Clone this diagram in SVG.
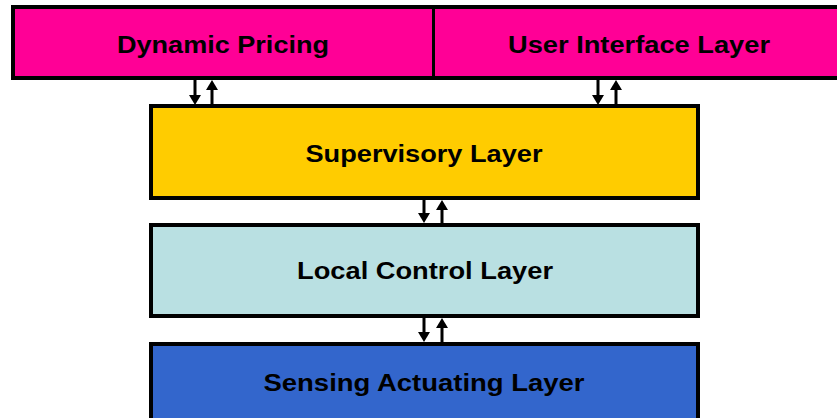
<svg xmlns="http://www.w3.org/2000/svg" width="837" height="418" viewBox="0 0 837 418">
  <style>
    .box { stroke: #000; stroke-width: 4; }
    .lbl { font-family: "Liberation Sans", Arial, sans-serif; font-weight: bold; font-size: 23px; fill: #000; text-anchor: middle; }
    .wire { stroke: #000; stroke-width: 3; fill: none; }
  </style>
  <defs>
    <!-- arrowhead: base sits on the line end, tip points onward -->
    <marker id="head" viewBox="0 0 10 12" refX="0" refY="6" markerWidth="10" markerHeight="12" markerUnits="userSpaceOnUse" orient="auto">
      <path d="M0,0 L10,6 L0,12 Z" fill="#000"/>
    </marker>
  </defs>

  <g id="top-layer">
    <rect class="box" x="13" y="7" width="832" height="71" fill="#FF0096"/>
    <line x1="433.5" y1="7" x2="433.5" y2="78" stroke="#000" stroke-width="3"/>
  </g>
  <g id="dynamic-pricing">
    <text class="lbl" x="223" y="53" textLength="212" lengthAdjust="spacingAndGlyphs">Dynamic Pricing</text>
  </g>
  <g id="user-interface">
    <text class="lbl" x="639" y="53" textLength="262" lengthAdjust="spacingAndGlyphs">User Interface Layer</text>
  </g>

  <g id="supervisory">
    <rect class="box" x="151" y="106" width="547" height="92" fill="#FFCC00"/>
    <text class="lbl" x="424" y="162" textLength="237" lengthAdjust="spacingAndGlyphs">Supervisory Layer</text>
  </g>

  <g id="local-control">
    <rect class="box" x="151" y="225" width="547" height="91" fill="#B9E0E2"/>
    <text class="lbl" x="425" y="279" textLength="256" lengthAdjust="spacingAndGlyphs">Local Control Layer</text>
  </g>

  <g id="sensing-actuating">
    <rect class="box" x="151" y="344" width="547" height="80" fill="#3366CC"/>
    <text class="lbl" x="424" y="391" textLength="321" lengthAdjust="spacingAndGlyphs">Sensing Actuating Layer</text>
  </g>

  <g id="connectors">
    <!-- Dynamic Pricing <-> Supervisory -->
    <line class="wire" x1="195" y1="80" x2="195" y2="95" marker-end="url(#head)"/>
    <line class="wire" x1="212" y1="104" x2="212" y2="90" marker-end="url(#head)"/>
    <!-- User Interface <-> Supervisory -->
    <line class="wire" x1="598" y1="80" x2="598" y2="95" marker-end="url(#head)"/>
    <line class="wire" x1="616" y1="104" x2="616" y2="90" marker-end="url(#head)"/>
    <!-- Supervisory <-> Local Control -->
    <line class="wire" x1="424" y1="200" x2="424" y2="213" marker-end="url(#head)"/>
    <line class="wire" x1="442" y1="223" x2="442" y2="210" marker-end="url(#head)"/>
    <!-- Local Control <-> Sensing Actuating -->
    <line class="wire" x1="424" y1="318" x2="424" y2="332" marker-end="url(#head)"/>
    <line class="wire" x1="442" y1="342" x2="442" y2="328" marker-end="url(#head)"/>
  </g>
</svg>
